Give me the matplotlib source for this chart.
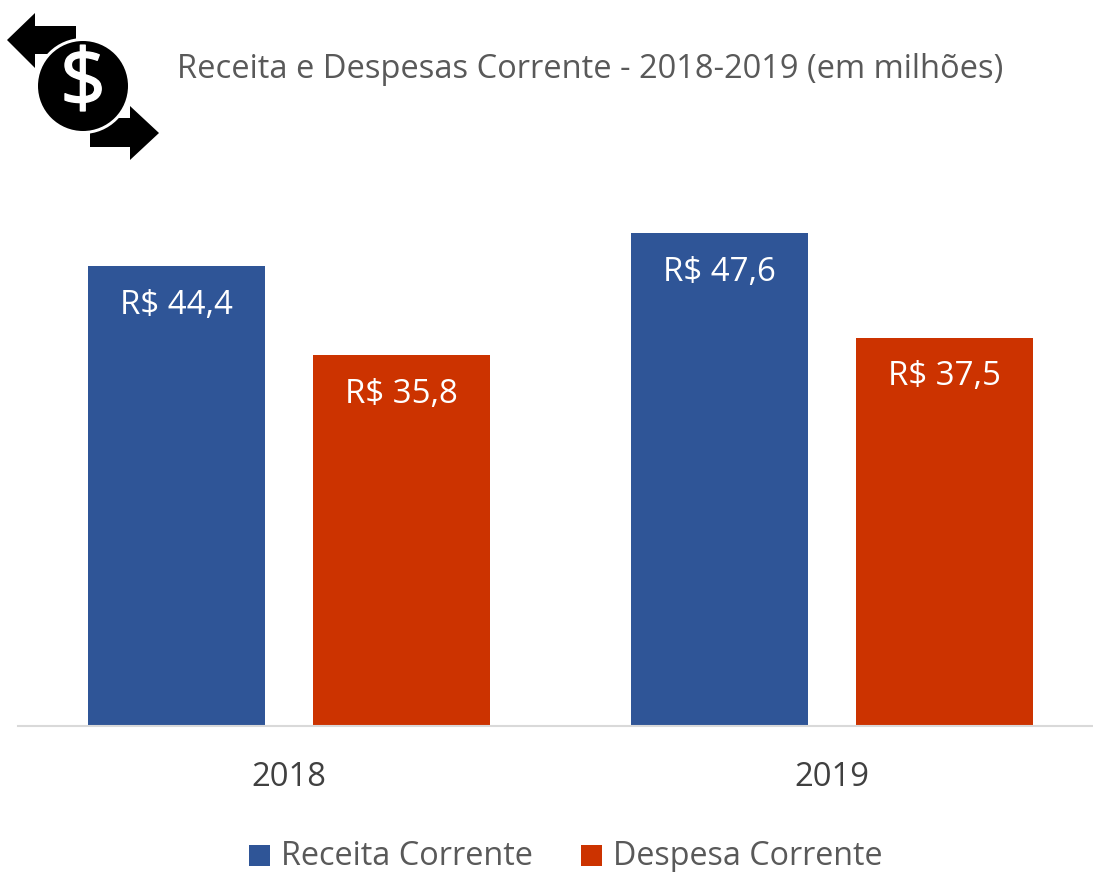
import numpy as np
import matplotlib
matplotlib.use('Agg')
import matplotlib.pyplot as plt
import matplotlib.patheffects as pe
from matplotlib.patches import Circle, Polygon, Rectangle

plt.rcParams['font.family'] = ['Open Sans', 'DejaVu Sans']

years = ['2018', '2019']
receita = [44.4, 47.6]
despesa = [35.8, 37.5]
receita_labels = ['R$ 44,4', 'R$ 47,6']
despesa_labels = ['R$ 35,8', 'R$ 37,5']
series_names = ['Receita Corrente', 'Despesa Corrente']
title = 'Receita e Despesas Corrente - 2018-2019 (em milhões)'

BLUE = '#2F5597'
RED = '#CC3300'
W, H = 1093, 872
PX_PER_UNIT = 10.34

fig = plt.figure(figsize=(W / 100, H / 100), dpi=100)

# main axes, placed in pixels
left, right, base, top = 17.5, W, 725.5, 100
ax = fig.add_axes([left / W, 1 - base / H, (right - left) / W, (base - top) / H])
x = np.arange(len(years))
width = 0.326
offset = 0.207
bars1 = ax.bar(x - offset, receita, width, color=BLUE)
bars2 = ax.bar(x + offset, despesa, width, color=RED)
ax.set_xlim(-0.5, -0.5 + (right - left) / 543)
ax.set_ylim(0, (base - top) / PX_PER_UNIT)

ax.bar_label(bars1, labels=receita_labels, label_type='edge', padding=-40, color='white', fontsize=23.8)
ax.bar_label(bars2, labels=despesa_labels, label_type='edge', padding=-40, color='white', fontsize=23.8)

for s in ['top', 'left', 'right']:
    ax.spines[s].set_visible(False)
ax.spines['bottom'].set_color('#D9D9D9')
ax.spines['bottom'].set_linewidth(1.5)
ax.set_yticks([])
ax.set_xticks(x)
ax.set_xticklabels(years, fontsize=23.6, color='#404040')
ax.tick_params(axis='x', length=0, pad=25.5)

# overlay in pixel coordinates for title, icon and legend
ov = fig.add_axes([0, 0, 1, 1])
ov.set_xlim(0, W)
ov.set_ylim(H, 0)
ov.axis('off')
ov.patch.set_alpha(0)

ov.text(177, 70, title, fontsize=23.48, color='#595959', va='center', ha='left')

ov.add_patch(Polygon([(7, 40), (35, 13), (35, 26), (76, 26), (76, 39), (60, 54), (35, 54), (35, 68)], color='black', lw=0))
ov.add_patch(Polygon([(159, 133), (130, 106), (130, 118), (110, 118), (90, 133), (90, 147), (130, 147), (130, 160)], color='black', lw=0))
ov.add_patch(Circle((83, 86), 48, color='white', lw=0))
ov.add_patch(Circle((83, 86), 45, color='black', lw=0))
dollar = ov.text(83, 85, '$', fontsize=58, color='white', ha='center', va='center', parse_math=False)
dollar.set_path_effects([pe.withStroke(linewidth=1, foreground='white')])

ov.add_patch(Rectangle((249, 845), 21, 21, color=BLUE, lw=0))
ov.add_patch(Rectangle((581, 845), 21, 21, color=RED, lw=0))
ov.text(281, 856, series_names[0], fontsize=23.4, color='#595959', va='center', ha='left')
ov.text(613, 856, series_names[1], fontsize=23.2, color='#595959', va='center', ha='left')

fig.savefig('out.png', dpi=100)
